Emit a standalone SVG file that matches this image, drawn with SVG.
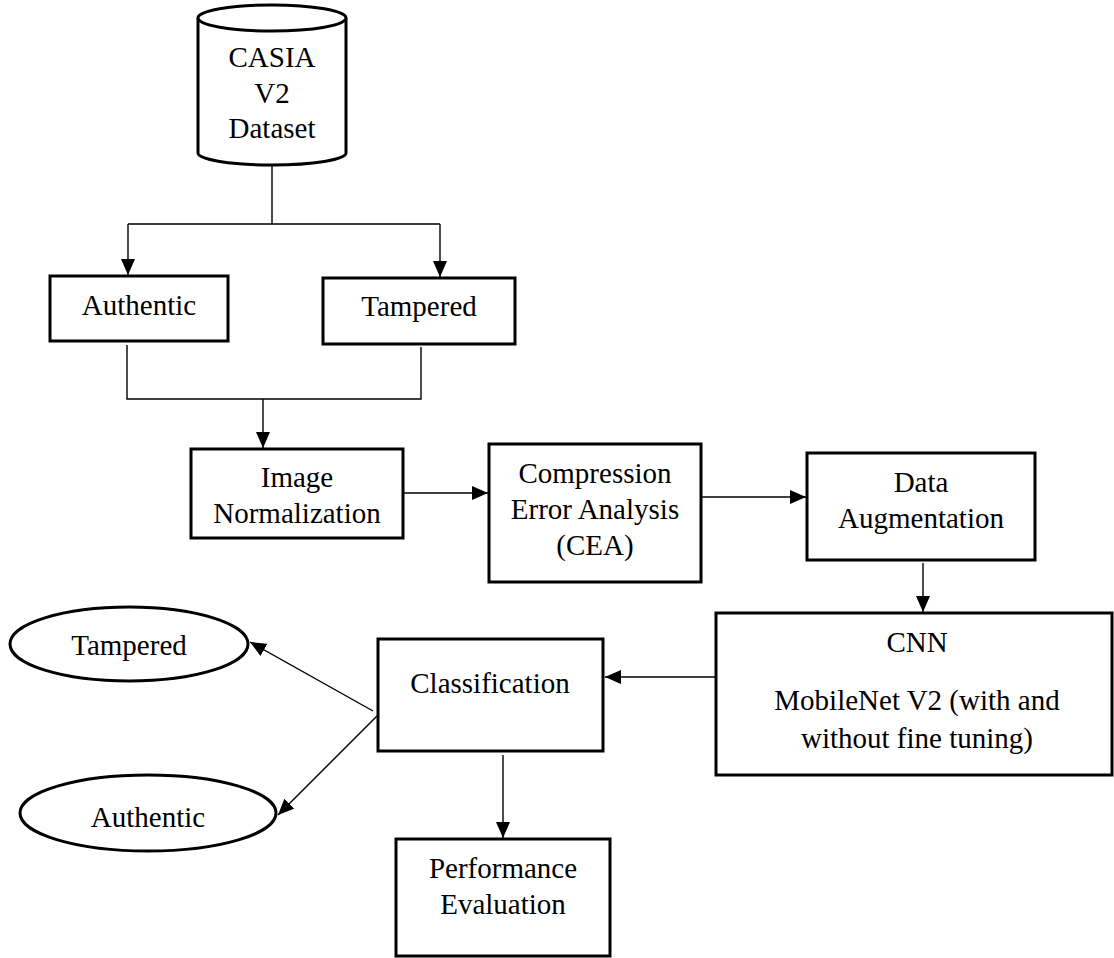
<svg xmlns="http://www.w3.org/2000/svg" width="1114" height="958" viewBox="0 0 1114 958">
<style>
.box{fill:#fff;stroke:#000;stroke-width:3}
.t{font-family:"Liberation Serif","Times New Roman",serif;font-size:29px;fill:#000;text-anchor:middle}
.c{fill:none;stroke:#000;stroke-width:1.4}
.a{marker-end:url(#ah)}
</style>
<defs>
<marker id="ah" markerUnits="userSpaceOnUse" markerWidth="17" markerHeight="15" refX="16" refY="7" orient="auto">
<path d="M0,0 L16,7 L0,14 z" fill="#000"/>
</marker>
</defs>
<rect width="1114" height="958" fill="#fff"/>
<g id="connectors">
<path class="c" d="M272,166 V224 M128,224 H440"/>
<path class="c a" d="M128,224 V275"/>
<path class="c a" d="M440,224 V277"/>
<path class="c" d="M127,345 V399 H421 V347"/>
<path class="c a" d="M263,399 V448"/>
<path class="c a" d="M403,493 H488"/>
<path class="c a" d="M701,497 H806"/>
<path class="c a" d="M923,563 V612"/>
<path class="c a" d="M716,677 H605"/>
<path class="c a" d="M373,711 L250,642"/>
<path class="c a" d="M378,715 L278,815"/>
<path class="c a" d="M503,755 V838"/>
</g>
<g id="casia">
<path class="box" d="M198,18 V153 A74,12 0 0 0 346,153 V18"/>
<ellipse class="box" cx="272" cy="18" rx="74" ry="13"/>
<text class="t" x="272" y="67">CASIA</text>
<text class="t" x="272" y="103">V2</text>
<text class="t" x="272" y="138">Dataset</text>
</g>
<g id="authentic1">
<rect class="box" x="50" y="276" width="178" height="65"/>
<text class="t" x="139" y="315">Authentic</text>
</g>
<g id="tampered1">
<rect class="box" x="323" y="278" width="192" height="66"/>
<text class="t" x="419" y="316">Tampered</text>
</g>
<g id="imgnorm">
<rect class="box" x="191" y="449" width="212" height="89"/>
<text class="t" x="297" y="487">Image</text>
<text class="t" x="297" y="523">Normalization</text>
</g>
<g id="cea">
<rect class="box" x="489" y="444" width="212" height="138"/>
<text class="t" x="595" y="483">Compression</text>
<text class="t" x="595" y="519">Error Analysis</text>
<text class="t" x="595" y="555">(CEA)</text>
</g>
<g id="augment">
<rect class="box" x="807" y="453" width="228" height="107"/>
<text class="t" x="921" y="492">Data</text>
<text class="t" x="921" y="528">Augmentation</text>
</g>
<g id="cnn">
<rect class="box" x="716" y="613" width="396" height="162"/>
<text class="t" x="917" y="652">CNN</text>
<text class="t" x="917" y="710">MobileNet V2 (with and</text>
<text class="t" x="917" y="748">without fine tuning)</text>
</g>
<g id="classification">
<rect class="box" x="378" y="639" width="225" height="112"/>
<text class="t" x="490" y="693">Classification</text>
</g>
<g id="tampered2">
<ellipse class="box" cx="129" cy="644" rx="119" ry="37"/>
<text class="t" x="129" y="655">Tampered</text>
</g>
<g id="authentic2">
<ellipse class="box" cx="148" cy="813" rx="128" ry="38"/>
<text class="t" x="148" y="827">Authentic</text>
</g>
<g id="performance">
<rect class="box" x="396" y="839" width="214" height="117"/>
<text class="t" x="503" y="878">Performance</text>
<text class="t" x="503" y="914">Evaluation</text>
</g>
</svg>
